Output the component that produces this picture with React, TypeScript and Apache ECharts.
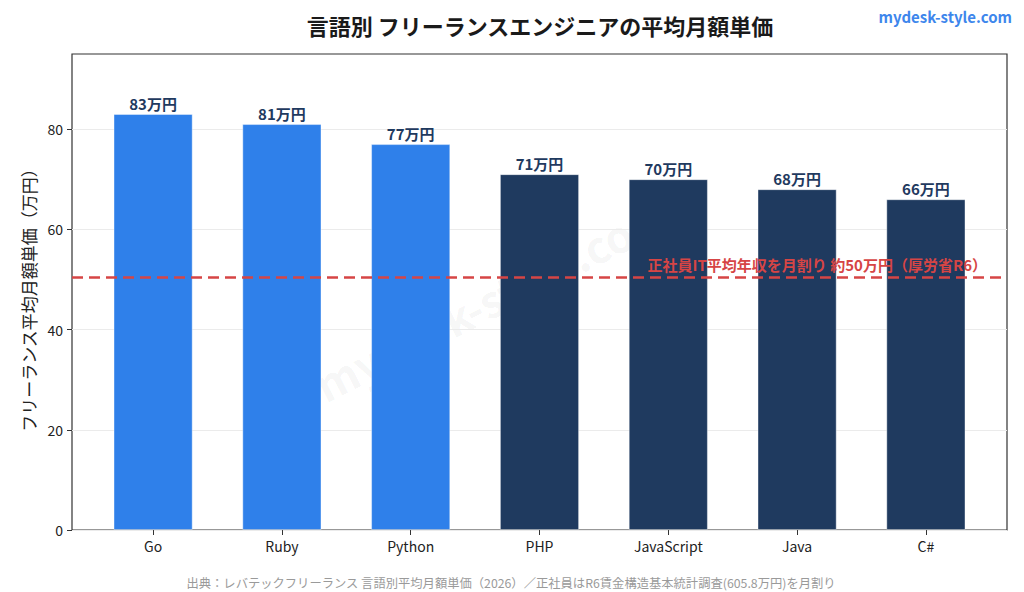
import React, { useEffect, useRef } from "react";
import * as echarts from "echarts";

const categories = ["Go", "Ruby", "Python", "PHP", "JavaScript", "Java", "C#"];
const monthlyRates = [83, 81, 77, 71, 70, 68, 66];
const highlighted = ["Go", "Ruby", "Python"];
const employeeMonthly = 50.48;
const yTicks = [0, 20, 40, 60, 80];
const yMax = 95;

const FONT = '"Noto Sans CJK JP", "Noto Sans", sans-serif';

export default function App() {
  const ref = useRef<HTMLDivElement>(null);
  useEffect(() => {
    if (!ref.current) return;
    const chart = echarts.init(ref.current, null, { renderer: "svg" });
    const barData = monthlyRates.map((v, i) => ({
      value: v,
      itemStyle: { color: highlighted.includes(categories[i]) ? "#2f80ea" : "#1f3a5f" },
    }));
    chart.setOption({
      animation: false,
      backgroundColor: "#ffffff",
      textStyle: { fontFamily: FONT },
      graphic: [
        {
          type: "text",
          z: -1,
          x: 492,
          y: 298,
          rotation: 0.47,
          style: {
            text: "mydesk-style.com",
            fontSize: 44,
            fontWeight: "bold",
            fontFamily: FONT,
            fill: "rgba(0,0,0,0.05)",
            align: "center",
            verticalAlign: "middle",
          },
        },
        {
          type: "text",
          x: 540,
          y: 25,
          style: {
            text: "言語別 フリーランスエンジニアの平均月額単価",
            fontSize: 22,
            fontWeight: "bold",
            fontFamily: FONT,
            fill: "#1a1a1a",
            align: "center",
            verticalAlign: "middle",
          },
        },
        {
          type: "text",
          x: 1012,
          y: 16,
          style: {
            text: "mydesk-style.com",
            fontSize: 15,
            fontWeight: "bold",
            fontFamily: FONT,
            fill: "#3d86ec",
            align: "right",
            verticalAlign: "middle",
          },
        },
        {
          type: "text",
          x: 28,
          y: 296,
          rotation: Math.PI / 2,
          style: {
            text: "フリーランス平均月額単価（万円）",
            fontSize: 17,
            fontFamily: FONT,
            fill: "#222222",
            align: "center",
            verticalAlign: "middle",
          },
        },
        {
          type: "text",
          x: 511,
          y: 583,
          style: {
            text: "出典：レバテックフリーランス 言語別平均月額単価（2026）／正社員はR6賃金構造基本統計調査(605.8万円)を月割り",
            fontSize: 12.3,
            fontFamily: FONT,
            fill: "#9a9a9a",
            align: "center",
            verticalAlign: "middle",
          },
        },
      ],
      grid: [
        {
          left: 72,
          right: 17,
          top: 54,
          bottom: 62,
          show: true,
          borderColor: "#333333",
          borderWidth: 1.2,
          backgroundColor: "transparent",
        },
        { left: 88.7, right: 33.7, top: 54, bottom: 62 },
      ],
      xAxis: [
        { type: "value", gridIndex: 0, min: 0, max: 1, show: false },
        {
          type: "category",
          gridIndex: 1,
          data: categories,
          axisLine: { show: false },
          axisTick: { show: true, alignWithLabel: true, length: 5, lineStyle: { color: "#333" } },
          axisLabel: { color: "#222222", fontSize: 14, margin: 9, fontFamily: FONT },
        },
      ],
      yAxis: [
        {
          type: "value",
          gridIndex: 0,
          min: 0,
          max: yMax,
          interval: 20,
          axisLine: { show: false },
          axisTick: { show: true, length: 5, lineStyle: { color: "#333" }, customValues: yTicks },
          axisLabel: { color: "#222222", fontSize: 14, margin: 9, fontFamily: FONT, customValues: yTicks },
          splitLine: { show: true, lineStyle: { color: "#ebebeb", width: 1 } },
        },
        { type: "value", gridIndex: 1, min: 0, max: yMax, show: false, splitLine: { show: false } },
      ],
      series: [
        {
          type: "line",
          xAxisIndex: 0,
          yAxisIndex: 0,
          data: [],
          silent: true,
          markLine: {
            silent: true,
            symbol: ["none", "none"],
            lineStyle: { color: "#d64545", width: 2.6, type: [11, 6] },
            label: {
              show: true,
              position: "insideEndTop",
              distance: [20, 5],
              formatter: "正社員IT平均年収を月割り 約50万円（厚労省R6）",
              color: "#d64545",
              fontSize: 15,
              fontWeight: "bold",
              fontFamily: FONT,
            },
            data: [{ yAxis: employeeMonthly }],
          },
        },
        {
          type: "bar",
          xAxisIndex: 1,
          yAxisIndex: 1,
          data: barData,
          barWidth: 79,
          z: 2,
          itemStyle: { borderColor: "rgba(255,255,255,0.5)", borderWidth: 0.8 },
          label: {
            show: true,
            position: "top",
            distance: 3,
            formatter: "{c}万円",
            color: "#1f3a5f",
            fontSize: 15,
            fontWeight: "bold",
            fontFamily: FONT,
          },
        },
      ],
    });
    return () => chart.dispose();
  }, []);
  return (
    <div
      ref={ref}
      style={{ position: "absolute", left: 0, top: 0, width: 1024, height: 592 }}
    />
  );
}
